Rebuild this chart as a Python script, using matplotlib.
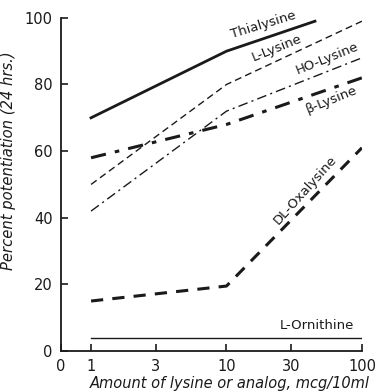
import numpy as np
from matplotlib import pyplot as plt

# values
thialysine_x = [1, 10, 45]
thialysine_y = [70, 90, 99]
llysine_x = [1, 10, 100]
llysine_y = [50, 80, 99]
holysine_x = [1, 10, 100]
holysine_y = [42, 72, 88]
blysine_x = [1, 10, 100]
blysine_y = [58, 68, 82]
oxalysine_x = [1, 10, 100]
oxalysine_y = [15, 19.5, 61]
ornithine_x = [1, 100]
ornithine_y = [4, 4]

xticks = [1, 3, 10, 30, 100]
yticks = [0, 20, 40, 60, 80, 100]

ink = "#1a1a1a"
plt.rcParams["font.family"] = "DejaVu Sans"

fig = plt.figure(figsize=(3.8, 3.91), dpi=100)
ax = fig.add_axes([0.1605, 0.1023, 0.792, 0.852])

ax.plot(thialysine_x, thialysine_y, "-", color=ink, lw=2.0)
ax.plot(llysine_x, llysine_y, color=ink, lw=1.0, dashes=(5, 3))
ax.plot(holysine_x, holysine_y, color=ink, lw=1.0, dashes=(7, 3, 1.5, 3))
ax.plot(blysine_x, blysine_y, color=ink, lw=2.2, dashes=(5, 3, 1.5, 3))
ax.plot(oxalysine_x, oxalysine_y, color=ink, lw=2.2, dashes=(4, 3))
ax.plot(ornithine_x, ornithine_y, "-", color=ink, lw=1.0)

ax.set_xscale("log")
xmin = 0.6
ax.set_xlim(xmin, 100)
ax.set_ylim(0, 100)
ax.set_xticks([xmin] + xticks)
ax.set_xticklabels(["0"] + [str(v) for v in xticks])
ax.xaxis.set_minor_locator(plt.NullLocator())
ax.set_yticks(yticks)
ax.set_yticklabels(["0"] + [str(v) for v in yticks[1:]])

for s in ["top", "right"]:
    ax.spines[s].set_visible(False)
for s in ["left", "bottom"]:
    ax.spines[s].set_linewidth(1.3)
    ax.spines[s].set_color(ink)
ax.tick_params(direction="in", length=5, width=1.2, colors=ink, labelsize=10.5)
ax.tick_params(axis="x", pad=6)
ax.tick_params(axis="y", pad=6)

ax.set_xlabel("Amount of lysine or analog, mcg/10ml", style="italic",
              fontsize=10.5, color=ink)
ax.xaxis.set_label_coords(0.56, -0.075)
ax.set_ylabel("Percent potentiation (24 hrs.)", style="italic",
              fontsize=10.6, color=ink)
ax.yaxis.set_label_coords(-0.15, 0.57)

kw = dict(fontsize=9.5, color=ink, ha="center", va="center")
ax.text(18.6, 97.9, "Thialysine", rotation=17, **kw)
ax.text(23.6, 91, "L-Lysine", rotation=22, **kw)
ax.text(55, 87.7, "HO-Lysine", rotation=22, **kw)
ax.text(60, 75.4, "β-Lysine", rotation=22, **kw)
ax.text(38, 48.3, "DL-Oxalysine", rotation=48, **kw)
ax.text(46.5, 7.8, "L-Ornithine", rotation=0, **kw)

fig.savefig("out.png", dpi=100)
